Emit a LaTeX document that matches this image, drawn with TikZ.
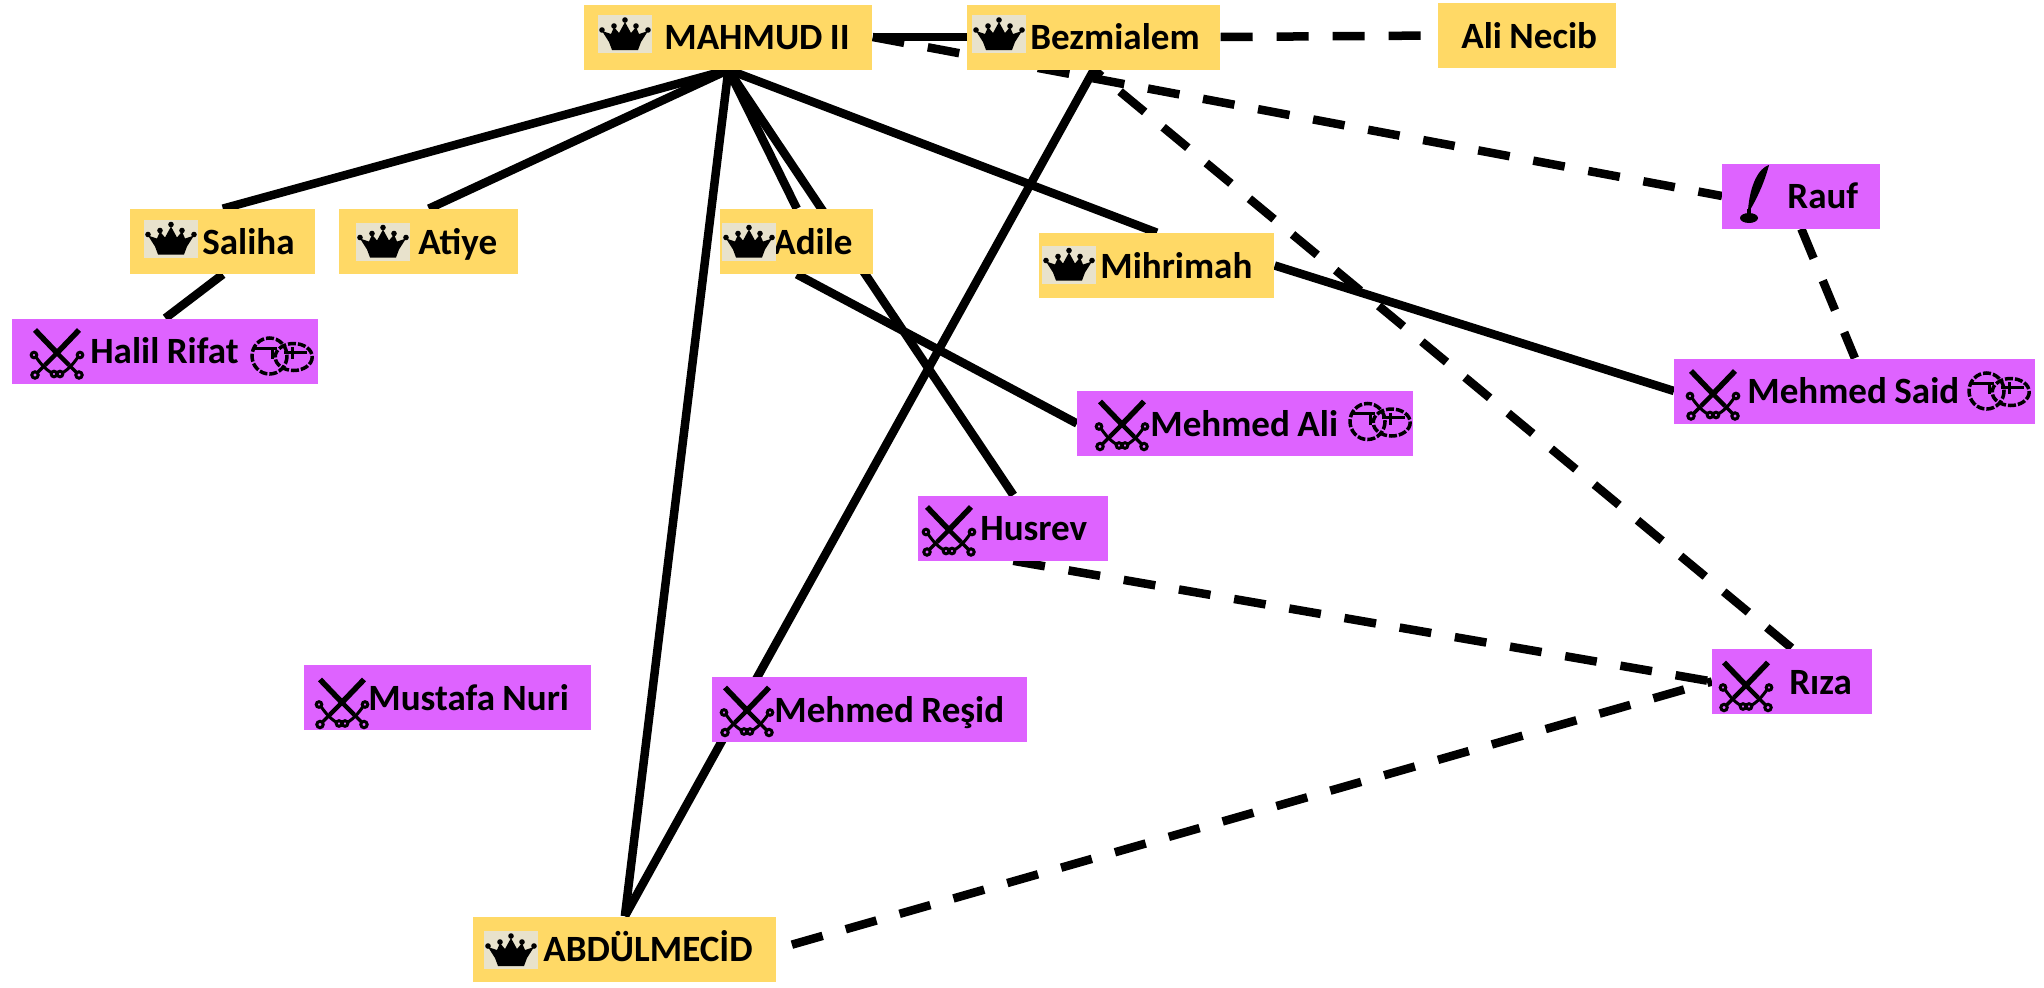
\documentclass[tikz,border=0pt]{standalone}
\usepackage{fontspec}
\setmainfont{Carlito}
\usetikzlibrary{backgrounds}
\newdimen\pxu
\pxu=0.02cm
\definecolor{royalfill}{RGB}{255,217,102}
\definecolor{officerfill}{RGB}{222,99,255}
\definecolor{crownback}{RGB}{232,226,204}
\tikzset{
  person/.style={anchor=west,inner xsep=0pt,inner ysep=0pt,align=left,
    text height=45\pxu,text depth=20\pxu,font=\fontsize{21.1}{24}\selectfont\bfseries},
  royal/.style={person,fill=royalfill},
  officer/.style={person,fill=officerfill},
  boxwidth/.style={text width=#1\pxu},
  textstart/.style={execute at begin node={\spaceskip=0.2em\hspace*{#1\pxu}}},
  tie/.style={line width=8.5\pxu},
  dashtie/.style={tie,dash pattern=on 32\pxu off 24\pxu},
  crownicon/.pic={
    \fill[crownback] (-27,-19) rectangle (27,19);
    \fill[black] (-13,16) -- (-16,8) -- (-23,-3) -- (-14,0) -- (-11,-7) -- (-6,-1) -- (0,-12)
      -- (6,-1) -- (11,-7) -- (14,0) -- (23,-3) -- (16,8) -- (13,16) -- cycle;
    \foreach \a/\b in {0/-14,-11/-8,11/-8,-23/-4,23/-4} {
      \fill[black] (\a,\b) circle (2.8); }
  },
  swordsicon/.pic={
    \foreach \s in {1,-1} {
      \begin{scope}[xscale=\s]
        \draw[line width=5.5\pxu] (-22,-23) -- (1,1);
        \draw[line width=4.5\pxu] (1,1) -- (12,12);
        \draw[line width=3.5\pxu] (12,12) -- (20,20);
        \draw[line width=3\pxu] (21,4) .. controls (17,10) and (11,17) .. (5,20);
        \draw[line width=3\pxu] (22,22) circle (3.2);
        \draw[line width=3\pxu] (23,2) circle (2.8);
        \draw[line width=3\pxu] (3,21) circle (2.8);
      \end{scope} }
  },
  ringsicon/.pic={
    \begin{scope}[line width=3.5\pxu,dash pattern=on 8\pxu off 2\pxu]
      \draw (-12.5,0) ellipse (17.5 and 18);
      \draw (11.7,1) ellipse (18.5 and 13.5);
    \end{scope}
    \draw[line width=3\pxu] (-27,-8) -- (-5,-8) (-10,-8) -- (-10,3) (2,-4) -- (25,-4) (10,-9) -- (10,3);
  },
  quillicon/.pic={
    \fill[black] (14,-29) .. controls (4,-26) and (-5,-10) .. (-7,16) -- (-5,16)
      .. controls (1,6) and (9,-10) .. (14,-29) -- cycle;
    \fill[black] (-6,24) ellipse (9 and 5);
    \fill[black] (-8,15) rectangle (-4,21);
  }
}
\begin{document}
\begin{tikzpicture}[x=0.02cm,y=-0.02cm]
  \useasboundingbox (0,0) rectangle (2044,987);
  \node[royal,boxwidth=288,textstart=80] (mahmud) at (584,37) {MAHMUD II};
  \node[royal,boxwidth=253,textstart=63] (bezmialem) at (967,37) {Bezmialem};
  \node[royal,boxwidth=178,textstart=23] (alinecib) at (1438,35.5) {Ali Necib};
  \node[royal,boxwidth=185,textstart=72] (saliha) at (130,241.5) {Saliha};
  \node[royal,boxwidth=179,textstart=79] (atiye) at (339,241.5) {Atiye};
  \node[royal,boxwidth=153,textstart=53] (adile) at (720,241.5) {Adile};
  \node[royal,boxwidth=235,textstart=61] (mihrimah) at (1039,265.5) {Mihrimah};
  \node[royal,boxwidth=303,textstart=70] (abdulmecid) at (473,949) {ABDÜLMECİD};
  \node[officer,boxwidth=158,textstart=65] (rauf) at (1722,196) {Rauf};
  \node[officer,boxwidth=306,textstart=78] (halil) at (12,351) {Halil Rifat};
  \node[officer,boxwidth=361,textstart=73] (said) at (1674,391) {Mehmed Said};
  \node[officer,boxwidth=336,textstart=73] (mali) at (1077,423.5) {Mehmed Ali};
  \node[officer,boxwidth=190,textstart=62] (husrev) at (918,528) {Husrev};
  \node[officer,boxwidth=160,textstart=77] (riza) at (1712,681.5) {Rıza};
  \node[officer,boxwidth=287,textstart=64] (mustafa) at (304,697.5) {Mustafa Nuri};
  \node[officer,boxwidth=315,textstart=62] (resid) at (712,709.5) {Mehmed Reşid};
  \begin{scope}[on background layer]
    \foreach \a/\b in {mahmud.east/bezmialem.west,mahmud.south/saliha.north,
      mahmud.south/atiye.north,mahmud.south/adile.north,mahmud.south/husrev.north,
      mahmud.south/mihrimah.north,mahmud.south/abdulmecid.north,
      bezmialem.south/abdulmecid.north,saliha.south/halil.north,
      adile.south/mali.west,mihrimah.east/said.west} {
      \draw[tie] (\a) -- (\b); }
    \foreach \a/\b in {bezmialem.east/alinecib.west,mahmud.east/rauf.west,
      rauf.south/said.north,husrev.south/riza.west} {
      \draw[dashtie] (\a) -- (\b); }
    \draw[dashtie,dash phase=22\pxu] (bezmialem.south) -- (riza.north);
    \draw[dashtie,dash phase=27\pxu] (riza.west) -- (abdulmecid.east);
  \end{scope}
  \foreach \who/\dx/\dy in {mahmud/41/-3,bezmialem/32/-3,saliha/41/-3,atiye/44/0,
    adile/29/0,mihrimah/30/-1,abdulmecid/38/1} {
    \pic at ([shift={(\dx,\dy)}]\who.west) {crownicon}; }
  \foreach \who/\dx/\dy in {halil/45/2,said/39/3,mali/45/1,husrev/31/2,riza/34/4,
    mustafa/38/5,resid/35/1} {
    \pic at ([shift={(\dx,\dy)}]\who.west) {swordsicon}; }
  \foreach \who/\dx/\dy in {halil/270/5,said/325/0,mali/303/-2} {
    \pic at ([shift={(\dx,\dy)}]\who.west) {ringsicon}; }
  \pic at ([shift={(33,-2)}]rauf.west) {quillicon};
\end{tikzpicture}
\end{document}
